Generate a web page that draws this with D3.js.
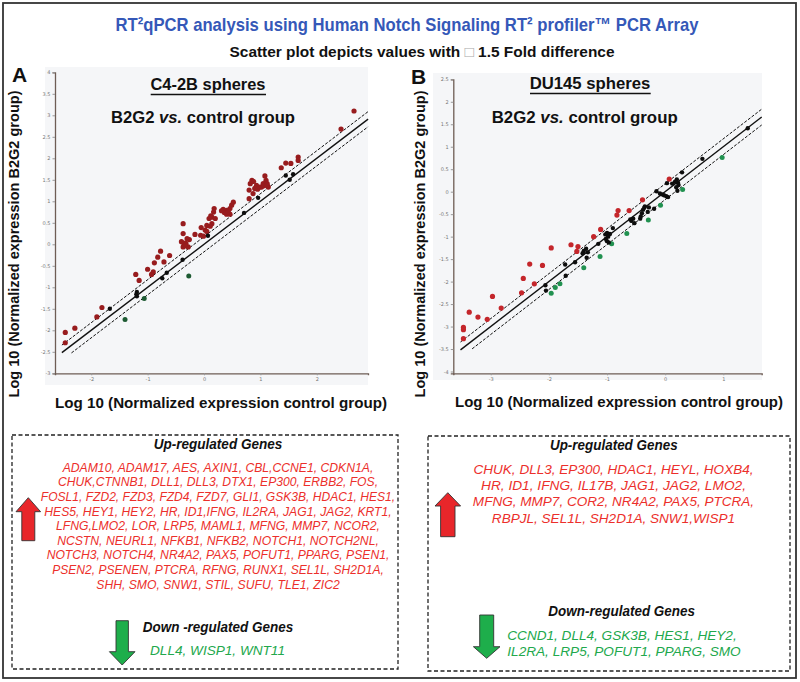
<!DOCTYPE html>
<html><head><meta charset="utf-8">
<script src="https://cdn.jsdelivr.net/npm/d3@7"></script>
<style>
body{margin:0;background:#fff;}
svg{display:block;font-family:"Liberation Sans",Arial,sans-serif;}
</style></head>
<body><svg id="c" width="800" height="682"></svg>
<script>
// ---------- DATA ----------
// Panel A (C4-2B spheres): [log10 control, log10 B2G2]
const aUp = [[2.66,3.10],[2.43,2.68],[1.67,2.03],[1.67,1.95],[1.54,1.88],[1.45,1.89],[1.37,1.78],
[1.08,1.59],[1.10,1.49],[1.12,1.41],[1.05,1.41],[1.02,1.33],[0.93,1.37],[0.90,1.30],[0.85,1.49],[0.82,1.41],[0.80,1.26],[0.80,1.06],[0.87,1.18],[1.14,1.33],[0.99,1.33],[0.88,1.46],[0.95,1.28],[1.06,1.36],[1.12,1.37],
[0.52,0.98],[0.49,0.91],[0.46,0.83],[0.40,0.79],[0.34,0.81],[0.40,0.70],[0.46,0.70],[0.36,0.74],[0.43,0.76],[0.31,0.78],[0.17,0.75],[0.18,0.83],[0.14,0.63],[0.09,0.60],[0.12,0.66],[0.20,0.60],
[0.05,0.44],[0.14,0.48],[0.11,0.42],[0.02,0.33],[0.05,0.30],[-0.05,0.39],[-0.16,0.23],[-0.06,0.21],[-0.01,0.19],[-0.37,0.48],[-0.37,0.25],[-0.26,0.11],[-0.32,0.02],[-0.28,-0.06],[-0.37,-0.06],[-0.36,0.03],[-0.30,0.13],[-0.33,-0.03],[-0.40,0.06],
[-0.61,-0.26],[-0.71,-0.41],[-0.77,-0.16],[-0.82,-0.30],[-0.88,-0.43],[-0.90,-0.64],[-0.93,-0.70],[-1.00,-0.58],[-1.15,-0.84],[-1.21,-0.70],
[-1.81,-1.47],[-1.90,-1.69],[-2.29,-1.95],[-2.46,-2.05],[-2.46,-2.29]];
const aNone = [[1.58,1.63],[1.45,1.60],[1.52,1.50],[0.96,1.08],[0.71,0.73],[0.07,0.20],[-0.38,-0.36],[-0.66,-0.66],[-0.74,-0.79],[-1.19,-1.11],[-1.20,-1.16],[-1.19,-1.21],[-1.67,-1.50]];
const aDown = [[-0.27,-0.74],[-1.06,-1.26],[-1.40,-1.75]];
// Panel B (DU145 spheres)
const bUp = [[-3.47,-3.27],[-3.47,-3.02],[-3.47,-3.07],[-3.37,-2.68],[-3.22,-2.79],[-3.06,-2.84],[-2.97,-2.33],[-2.82,-2.59],[-2.47,-2.25],[-2.44,-1.93],[-2.33,-1.61],[-2.25,-2.05],[-2.11,-1.64],[-1.96,-1.25],[-1.62,-1.18],[-1.50,-1.22],[-1.52,-1.33],[-1.23,-1.00],[-1.11,-0.84],[-0.83,-0.52],[-0.81,-0.42],[-0.62,-0.42],[-0.39,-0.18],[0.07,0.28]];
const bNone = [[1.42,1.41],[0.64,0.73],[0.29,0.43],[0.20,0.27],[0.22,0.20],[0.17,0.22],[0.23,0.15],[0.19,0.10],[0.12,0.18],[0.03,0.19],[0.21,0.02],[-0.15,0.01],[-0.09,-0.04],[-0.05,-0.06],[-0.02,-0.08],[0.02,-0.10],[0.05,-0.12],[-0.19,-0.38],[-0.28,-0.35],[-0.30,-0.45],[-0.35,-0.33],[-0.38,-0.40],[-0.40,-0.48],[-0.42,-0.55],[-0.43,-0.60],[-0.36,-0.36],[-0.55,-0.60],[-0.58,-0.65],[-0.60,-0.62],[-0.53,-0.70],[-0.90,-0.81],[-0.95,-0.94],[-1.00,-0.92],[-1.03,-0.95],[-0.98,-1.00],[-1.02,-1.05],[-1.00,-1.10],[-0.97,-1.13],[-1.15,-1.16],[-1.36,-1.27],[-1.40,-1.32],[-1.42,-1.37],[-1.33,-1.35],[-1.35,-1.47],[-1.55,-1.57],[-1.72,-1.62],[-1.71,-1.87],[-2.06,-2.08],[-2.05,-2.20]];
const bDown = [[0.98,0.76],[0.30,0.05],[-0.08,-0.30],[-0.29,-0.63],[-0.66,-0.93],[-0.92,-1.16],[-1.12,-1.44],[-1.40,-1.69],[-1.81,-2.05],[-1.89,-2.13],[-1.96,-2.26]];
// fold-change boundary lines: offset in log10 units (log10 1.5) and x extent
const foldOffsets = [Math.log10(1.5), 0, -Math.log10(1.5)];
const aLineStart = [-2.52, -2.52, -2.35], aLineEnd = 2.91;
const bLineStart = [-3.52, -3.52, -3.32], bLineEnd = 1.66;
// ticks
const aXTicks = [-2,-1,0,1,2];
const aYTicks = [4,3.5,3,2.5,2,1.5,1,0.5,0,-0.5,-1,-1.5,-2,-2.5,-3];
const bXTicks = [-3,-2,-1,0,1];
const bYTicks = [2.5,2,1.5,1,0.5,0,-0.5,-1,-1.5,-2,-2.5,-3,-3.5,-4];
// text
const titleMain = "RT\u00B2qPCR analysis using Human Notch Signaling RT\u00B2 profiler\u2122 PCR Array";
const aUpGenes = ["ADAM10, ADAM17, AES, AXIN1, CBL,CCNE1, CDKN1A,","CHUK,CTNNB1, DLL1, DLL3, DTX1, EP300, ERBB2, FOS,","FOSL1, FZD2, FZD3, FZD4, FZD7, GLI1, GSK3B, HDAC1, HES1,","HES5, HEY1, HEY2, HR, ID1,IFNG, IL2RA, JAG1, JAG2, KRT1,","LFNG,LMO2, LOR, LRP5, MAML1, MFNG, MMP7, NCOR2,","NCSTN, NEURL1, NFKB1, NFKB2, NOTCH1, NOTCH2NL,","NOTCH3, NOTCH4, NR4A2, PAX5, POFUT1, PPARG, PSEN1,","PSEN2, PSENEN, PTCRA, RFNG, RUNX1, SEL1L, SH2D1A,","SHH, SMO, SNW1, STIL, SUFU, TLE1, ZIC2"];
const aDownGenes = ["DLL4, WISP1, WNT11"];
const bUpGenes = ["CHUK, DLL3, EP300, HDAC1, HEYL, HOXB4,","HR, ID1, IFNG, IL17B,  JAG1, JAG2, LMO2,","MFNG,  MMP7,  COR2, NR4A2, PAX5, PTCRA,","RBPJL, SEL1L, SH2D1A, SNW1,WISP1"];
const bDownGenes = ["CCND1, DLL4, GSK3B, HES1, HEY2,","IL2RA, LRP5, POFUT1, PPARG, SMO"];

// ---------- DRAW ----------
const svg = d3.select("#c");
const RED_TXT = "#ec2f2b", GRN_TXT = "#22a84c";

svg.append("rect").attr("x",3).attr("y",3).attr("width",793).attr("height",675)
  .attr("fill","#fff").attr("stroke","#333").attr("stroke-width",1.8);

function txt(x,y,s,opt){
  const t = svg.append("text").attr("x",x).attr("y",y).text(s)
    .attr("text-anchor",opt.anchor||"middle")
    .attr("font-size",opt.size).attr("font-weight",opt.weight||"normal")
    .attr("font-style",opt.style||"normal").attr("fill",opt.fill||"#111");
  if(opt.len){t.attr("textLength",opt.len).attr("lengthAdjust","spacingAndGlyphs");}
  if(opt.rotate){t.attr("transform",`rotate(-90,${x},${y})`);}
  return t;
}

// titles
txt(407,31,titleMain,{size:19,weight:"bold",fill:"#3558b8",len:583});
const sub = svg.append("text").attr("x",422).attr("y",57).attr("text-anchor","middle")
  .attr("font-size",15.5).attr("font-weight","bold").attr("fill","#111")
  .attr("textLength",385).attr("lengthAdjust","spacingAndGlyphs");
sub.append("tspan").text("Scatter plot depicts values with ");
sub.append("tspan").text("\u25A1").attr("fill","#aaa").attr("font-weight","normal");
sub.append("tspan").text(" 1.5 Fold difference");

function panel(cfg){
  const x = d3.scaleLinear().domain(cfg.xd).range(cfg.xr);
  const y = d3.scaleLinear().domain(cfg.yd).range(cfg.yr);
  svg.append("rect").attr("x",cfg.bg[0]).attr("y",cfg.bg[1]).attr("width",cfg.bg[2]).attr("height",cfg.bg[3]).attr("fill","#f5f6f8");
  const g = svg.append("g");
  // fold lines
  foldOffsets.forEach((o,i)=>{
    const x0 = cfg.lineStart[i], x1 = cfg.lineEnd;
    g.append("line").attr("x1",x(x0)).attr("y1",y(x0+o)).attr("x2",x(x1)).attr("y2",y(x1+o))
      .attr("stroke","#111").attr("stroke-width",o===0?1.4:1)
      .attr("stroke-dasharray",o===0?null:"3,1.6");
  });
  const dots=(arr,col,r)=>g.append("g").selectAll("circle").data(arr).join("circle")
    .attr("cx",d=>x(d[0])).attr("cy",d=>y(d[1])).attr("r",r).attr("fill",col);
  dots(cfg.up,cfg.red,2.6);
  dots(cfg.down,cfg.green,2.5);
  dots(cfg.none,"#0d0d0d",2.2);
  // axes
  const ya = svg.append("g").attr("transform",`translate(${cfg.xr[0]},0)`)
    .call(d3.axisLeft(y).tickValues(cfg.yt).tickSize(2.5).tickPadding(2).tickFormat(d=>String(d)));
  const xa = svg.append("g").attr("transform",`translate(0,${cfg.yr[0]})`)
    .call(d3.axisBottom(x).tickValues(cfg.xt).tickSize(2).tickPadding(2).tickFormat(d=>String(d)));
  [ya,xa].forEach(a=>{
    a.select(".domain").attr("stroke","#6e5d55").attr("stroke-width",1.3);
    a.selectAll(".tick line").attr("stroke","#999");
    a.selectAll(".tick text").attr("fill","#777").attr("font-size",5).attr("font-family","DejaVu Sans,sans-serif");
  });
}

panel({xd:[-2.642,2.908],xr:[55,368],yd:[-3,4],yr:[373.3,72.3],bg:[45,67,323,318],
  lineStart:aLineStart,lineEnd:aLineEnd,up:aUp,none:aNone,down:aDown,red:"#981c1e",green:"#1d5a32",xt:aXTicks,yt:aYTicks});
panel({xd:[-3.644,1.66],xr:[453.3,761.7],yd:[-4.04,2.5],yr:[373.3,79.3],bg:[433,73,329,307],
  lineStart:bLineStart,lineEnd:bLineEnd,up:bUp,none:bNone,down:bDown,red:"#c4262b",green:"#219150",xt:bXTicks,yt:bYTicks});

// panel headers
txt(12,82,"A",{size:21,weight:"bold",anchor:"start"});
txt(411,84,"B",{size:21,weight:"bold",anchor:"start"});
txt(208,90,"C4-2B spheres",{size:16.5,weight:"bold",len:115});
svg.append("line").attr("x1",150.7).attr("x2",266).attr("y1",94.5).attr("y2",94.5).attr("stroke","#111").attr("stroke-width",1.3);
txt(590,89.3,"DU145 spheres",{size:16.5,weight:"bold",len:120.7});
svg.append("line").attr("x1",530).attr("x2",650.7).attr("y1",93.5).attr("y2",93.5).attr("stroke","#111").attr("stroke-width",1.3);
function vsLine(cx,len){
  const t = svg.append("text").attr("x",cx).attr("y",122.7).attr("text-anchor","middle")
    .attr("font-size",17).attr("font-weight","bold").attr("fill","#111")
    .attr("textLength",len).attr("lengthAdjust","spacingAndGlyphs");
  t.append("tspan").text("B2G2 ");
  t.append("tspan").text("vs.").attr("font-style","italic");
  t.append("tspan").text("  control group");
}
vsLine(203,184); vsLine(584.7,186);

// axis titles
txt(19,244,"Log 10 (Normalized expression B2G2 group)",{size:15,weight:"bold",rotate:true,len:307});
txt(425,244,"Log 10 (Normalized expression  B2G2 group)",{size:15,weight:"bold",rotate:true,len:307});
txt(221,408,"Log 10 (Normalized expression  control group)",{size:15,weight:"bold",len:332});
txt(619,407,"Log 10 (Normalized expression  control group)",{size:15,weight:"bold",len:328});

// gene boxes
svg.append("rect").attr("x",12).attr("y",435).attr("width",386).attr("height",234).attr("fill","none")
  .attr("stroke","#222").attr("stroke-width",1.3).attr("stroke-dasharray","4,2.5");
svg.append("rect").attr("x",428).attr("y",436).attr("width",362).attr("height",235).attr("fill","none")
  .attr("stroke","#222").attr("stroke-width",1.3).attr("stroke-dasharray","4,2.5");

txt(218,449.3,"Up-regulated Genes",{size:14,weight:"bold",style:"italic",len:128.7});
const aWidths=[310.6,320,354.3,347.4,324,321.7,342.7,331.6,243.4];
aUpGenes.forEach((s,i)=>txt(218,471.7+i*14.6,s,{size:12,style:"italic",fill:RED_TXT,len:aWidths[i]}));
txt(218,632.3,"Down -regulated Genes",{size:14,weight:"bold",style:"italic",len:150.6});
aDownGenes.forEach((s,i)=>txt(217.5,655,s,{size:12,style:"italic",fill:GRN_TXT,len:135}));

txt(613.8,450,"Up-regulated Genes",{size:14,weight:"bold",style:"italic",len:127.7});
const bWidths=[280,265,281.3,243.3];
bUpGenes.forEach((s,i)=>txt(613.5,474+i*16.2,s,{size:13.5,style:"italic",fill:RED_TXT,len:bWidths[i]}));
txt(621.7,616,"Down-regulated Genes",{size:14,weight:"bold",style:"italic",len:146.7});
const bDW=[229.4,233.4];
bDownGenes.forEach((s,i)=>txt(507.3,640+i*16,s,{size:13.5,style:"italic",fill:GRN_TXT,anchor:"start",len:bDW[i]}));

// arrows
function upArrow(cx,top,hw,sw,headH,bottom,col){
  const p=[[cx,top],[cx+hw,top+headH],[cx+sw,top+headH],[cx+sw,bottom],[cx-sw,bottom],[cx-sw,top+headH],[cx-hw,top+headH]];
  svg.append("polygon").attr("points",p.map(d=>d.join(",")).join(" ")).attr("fill",col).attr("stroke","#333").attr("stroke-width",0.9);
}
function downArrow(cx,top,hw,sw,headH,bottom,col){
  const p=[[cx-sw,top],[cx+sw,top],[cx+sw,bottom-headH],[cx+hw,bottom-headH],[cx,bottom],[cx-hw,bottom-headH],[cx-sw,bottom-headH]];
  svg.append("polygon").attr("points",p.map(d=>d.join(",")).join(" ")).attr("fill",col).attr("stroke","#333").attr("stroke-width",0.9);
}
upArrow(28.3,497.7,12.3,6.5,14,540.7,"#e8262a");
downArrow(122.2,620.7,12.8,6.2,13.3,665,"#1eae4b");
upArrow(447.8,492.7,12.8,7.2,13.3,536.7,"#e8262a");
downArrow(486.7,615,13.3,7,11.6,658.3,"#1eae4b");
</script></body></html>
